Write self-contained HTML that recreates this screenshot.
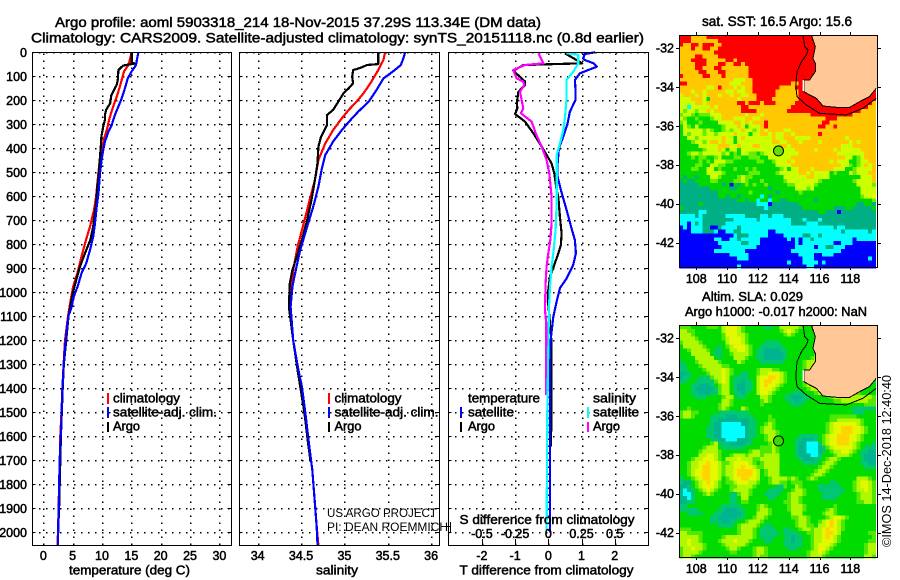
<!DOCTYPE html>
<html lang="en">
<head>
<meta charset="utf-8">
<title>Argo profile 5903318_214</title>
<style>
html,body{margin:0;padding:0;background:#fff;width:900px;height:580px;overflow:hidden}
svg{display:block}
text{font-family:"Liberation Sans",sans-serif;fill:#000;stroke:#000;stroke-width:.5px}
.t{font-size:14px}
.l{font-size:13px}
.k{font-size:12.5px}
.thin{font-size:12px;stroke:none}
</style>
</head>
<body>
<svg id="chart" xmlns="http://www.w3.org/2000/svg" width="900" height="580" viewBox="0 0 900 580">
  <rect x="0" y="0" width="900" height="580" fill="#fff"/>
  <text class="t" x="55" y="27" textLength="486" lengthAdjust="spacingAndGlyphs">Argo profile: aoml 5903318_214 18-Nov-2015 37.29S 113.34E (DM data)</text>
  <text class="t" x="31" y="42.5" textLength="613" lengthAdjust="spacingAndGlyphs">Climatology: CARS2009. Satellite-adjusted climatology: synTS_20151118.nc (0.8d earlier)</text>

  <g id="panel-layer"></g>

  <text class="l" x="69" y="574.5" textLength="121" lengthAdjust="spacingAndGlyphs">temperature (deg C)</text>
  <text class="l" x="316" y="574.5" textLength="42" lengthAdjust="spacingAndGlyphs">salinity</text>
  <text class="l" x="459.5" y="574.5" textLength="174" lengthAdjust="spacingAndGlyphs">T difference from climatology</text>
  <text class="l" x="459.5" y="524" textLength="175" lengthAdjust="spacingAndGlyphs">S difference from climatology</text>

  <g>
    <rect x="107" y="393" width="2" height="11" fill="#f00"/>
    <rect x="107" y="407" width="2" height="11" fill="#00f"/>
    <rect x="107" y="422" width="2" height="10" fill="#000"/>
    <text class="k" x="113" y="402.5" textLength="67" lengthAdjust="spacingAndGlyphs">climatology</text>
    <text class="k" x="113" y="416.5" textLength="104" lengthAdjust="spacingAndGlyphs">satellite-adj. clim.</text>
    <text class="k" x="113" y="430.5" textLength="27" lengthAdjust="spacingAndGlyphs">Argo</text>
  </g>
  <g>
    <rect x="328" y="393" width="2" height="11" fill="#f00"/>
    <rect x="328" y="407" width="2" height="11" fill="#00f"/>
    <rect x="328" y="422" width="2" height="10" fill="#000"/>
    <text class="k" x="334.5" y="402.5" textLength="67" lengthAdjust="spacingAndGlyphs">climatology</text>
    <text class="k" x="334.5" y="416.5" textLength="104" lengthAdjust="spacingAndGlyphs">satellite-adj. clim.</text>
    <text class="k" x="334.5" y="430.5" textLength="27" lengthAdjust="spacingAndGlyphs">Argo</text>
  </g>
  <g>
    <text class="k" x="468" y="402.5" textLength="72" lengthAdjust="spacingAndGlyphs">temperature</text>
    <rect x="460" y="407" width="2" height="11" fill="#00f"/>
    <text class="k" x="468" y="416.5" textLength="46" lengthAdjust="spacingAndGlyphs">satellite</text>
    <rect x="460" y="422" width="2" height="10" fill="#000"/>
    <text class="k" x="468" y="430.5" textLength="27" lengthAdjust="spacingAndGlyphs">Argo</text>
    <text class="k" x="593" y="402.5" textLength="43" lengthAdjust="spacingAndGlyphs">salinity</text>
    <rect x="587" y="407" width="2" height="11" fill="#0ff"/>
    <text class="k" x="593" y="416.5" textLength="46" lengthAdjust="spacingAndGlyphs">satellite</text>
    <rect x="587" y="422" width="2" height="10" fill="#f0f"/>
    <text class="k" x="593" y="430.5" textLength="27" lengthAdjust="spacingAndGlyphs">Argo</text>
  </g>
  <text class="thin" x="327" y="517" textLength="110" lengthAdjust="spacingAndGlyphs">US ARGO PROJECT</text>
  <text class="thin" x="327" y="531" textLength="121" lengthAdjust="spacingAndGlyphs">PI: DEAN ROEMMICH</text>
  <path d="M450.5 522V532M445 526.5H450" stroke="#000" stroke-width="1" fill="none" shape-rendering="crispEdges"/>

  <g id="map-layer"></g>

  <text class="t" x="702" y="26" textLength="150" lengthAdjust="spacingAndGlyphs">sat. SST: 16.5 Argo: 15.6</text>
  <text class="l" x="702" y="301" textLength="101" lengthAdjust="spacingAndGlyphs">Altim. SLA: 0.029</text>
  <text class="l" x="685" y="316" textLength="182" lengthAdjust="spacingAndGlyphs">Argo h1000: -0.017 h2000: NaN</text>
  <text class="thin" style="font-size:13px" transform="translate(891,547) rotate(-90)" x="0" y="0" textLength="172" lengthAdjust="spacingAndGlyphs">©IMOS 14-Dec-2018 12:40:40</text>
</svg>

<script>
// ---------- tick labels ----------
const depthTicks = [0,100,200,300,400,500,600,700,800,900,1000,1100,1200,1300,1400,1500,1600,1700,1800,1900,2000];
const tempTicks = [0,5,10,15,20,25,30];
const salTicks = [34,34.5,35,35.5,36];
const tDiffTicks = [-2,-1,0,1,2];
const sDiffTicks = [-0.5,-0.25,0,0.25,0.5];
const sDiffLabels = ['-0.5','-0.25','0','0.25','0.5'];
const lonTicks = [108,110,112,114,116,118];
const latTicks = [-32,-34,-36,-38,-40,-42];

// ---------- temperature profiles ----------
const tempClimDepth = [0,25,53,80,129,178,226,268,324,365,407,462,532,601,657,726,782,851,921,976,1018,1100,1200,1300,1400,1500,1600,1700,1800,1900,2000,2055];
const tempClimValue = [15.06,14.8,14.5,13.75,13.2,12.6,11.9,11.36,10.8,10.3,9.94,9.55,9.26,9.0,8.64,7.95,7.27,6.5,5.8,5.1,4.77,4.2,3.7,3.45,3.25,3.1,2.9,2.85,2.7,2.6,2.5,2.4];
const tempArgoDepth = [0,43,47,55,74,115,136,178,212,240,261,282,310,351,393,435,490,560,629,671,726,782,837,893,949,1004,1100,1200,1300,1400,1500,1600,1700,1800,1900,2000];
const tempArgoValue = [15.06,15.06,15.6,13.6,12.8,12.7,12.5,11.6,11.4,10.7,10.5,10.5,10.2,9.9,9.8,9.66,9.5,9.2,9.0,8.75,8.5,8.0,7.1,6.25,5.6,5.0,4.3,3.9,3.5,3.3,3.15,3.0,2.9,2.8,2.7,2.5];
const tempSatDepth = [0,25,53,80,108,150,192,226,261,303,330,372,407,449,504,587,643,712,768,824,879,921,976,1025,1060,1101,1157,1226,1282,1379,1448,1546,1657,1768,1851,1962,2052];
const tempSatValue = [16.2,16.0,15.8,15.05,14.4,13.9,13.35,12.8,12.2,11.65,11.1,10.5,10.2,9.94,9.66,9.4,9.1,8.8,8.5,7.95,7.3,6.5,5.85,5.1,4.83,4.26,3.98,3.7,3.52,3.3,3.18,3.07,2.84,2.73,2.67,2.56,2.5];

// ---------- salinity profiles ----------
const salClimDepth = [0,32,74,129,171,206,240,275,324,379,449,532,615,713,810,907,977,1060,1200,1324,1393,1504,1629,1740,1879,1977,2053];
const salClimValue = [35.47,35.45,35.39,35.3,35.22,35.14,35.05,34.97,34.87,34.78,34.7,34.66,34.6,34.53,34.46,34.41,34.39,34.38,34.41,34.47,34.51,34.55,34.59,34.63,34.66,34.68,34.7];
const salArgoDepth = [0,49,53,63,74,101,129,150,171,206,240,261,303,352,393,463,532,615,699,782,852,907,963,1060,1200,1324,1504,1640,1705];
const salArgoValue = [35.39,35.39,35.26,35.2,35.1,35.09,35.1,35.05,34.99,34.93,34.87,34.8,34.8,34.73,34.7,34.69,34.66,34.62,34.57,34.51,34.45,34.4,34.37,34.36,34.41,34.46,34.54,34.585,34.61];
const salSatDepth = [0,25,53,74,109,157,206,247,282,324,372,428,483,560,644,727,824,907,977,1060,1200,1324,1393,1504,1629,1740,1879,1977,2053];
const salSatValue = [35.7,35.68,35.65,35.58,35.45,35.37,35.28,35.16,35.07,34.97,34.87,34.78,34.74,34.7,34.64,34.57,34.49,34.44,34.4,34.38,34.41,34.47,34.51,34.55,34.59,34.63,34.66,34.68,34.69];

// ---------- difference profiles ----------
const tDiffSatDepth = [0,7,25,32,46,60,74,88,115,157,199,247,296,352,400,463,518,574,657,733,782,838,886,942,983,1039,1102,1185,1240,2000];
const tDiffSatValue = [1.41,1.1,1.05,1.1,1.36,1.46,1.2,.95,.8,.82,.82,.65,.58,.45,.32,.28,.28,.38,.55,.7,.8,.83,.75,.55,.35,.25,.15,.08,.05,.05];
const tDiffArgoDepth = [4,32,46,53,77,122,136,164,213,233,257,289,338,393,463,504,574,601,685,754,803,838,886,935,990,1053,1129,1213,1407,1643];
const tDiffArgoValue = [.5,.85,1.02,-.75,-1.05,-.7,-.7,-.9,-.95,-.93,-1.0,-.7,-.45,-.2,.1,.18,.25,.3,.35,.4,.38,.3,.18,.05,0,0,.05,.1,.1,.08];
const sDiffArgoDepth = [4,46,53,74,109,122,136,164,213,233,254,289,338,393,449,504,602,713,782,838,893,963,1074,1129,1240,1428];
const sDiffArgoValue = [-.075,-.0375,-.176,-.264,-.238,-.188,-.18,-.213,-.196,-.188,-.206,-.125,-.095,-.05,-.0125,.0075,.025,.025,.015,0,-.0125,-.02,-.025,-.015,-.015,-.015];
const sDiffSatDepth = [4,11,46,81,115,192,275,324,379,428,504,629,740,838,893,977,1060,1240,1504,1990];
const sDiffSatValue = [.138,.226,.226,.188,.138,.138,.125,.113,.088,.063,.063,.063,.055,.038,.025,.013,.005,0,-.0075,-.0125];

// ---------- maps ----------
const sstColors = {b:'#0000ff',c:'#00ffff',t:'#00b084',T:'#00c864',g:'#00d800',l:'#66ee00',x:'#ccff00',y:'#f4f400',o:'#ffc800',r:'#ff0000'};
const slaColors = {b:'#0000ff',c:'#00ffff',t:'#00b490',T:'#00c870',g:'#00dc00',l:'#50e800',x:'#b0f800',y:'#e4f800',o:'#ffd400',r:'#ff0000'};
const argoLon = [113.34];
const argoLat = [-37.29];
const landLon = [115.47,115.73,115.58,115.73,115.73,115.36,114.98,114.98,115.36,115.80,116.23,117.09,117.96,118.60,119.25,119.68,119.75,119.75];
const landLat = [-31.33,-31.93,-32.53,-32.79,-33.22,-33.64,-33.64,-34.24,-34.41,-34.59,-34.98,-35.05,-35.05,-34.76,-34.50,-34.07,-34.0,-31.33];
const shelfLon = [114.93,115.04,115.26,115.15,114.83,114.54,114.46,114.54,115.15,116.01,117.74,118.82,119.68];
const shelfLat = [-31.33,-31.93,-32.10,-32.36,-32.70,-33.22,-33.99,-34.50,-34.93,-35.36,-35.44,-35.10,-34.59];

const sstGrid = [
"rrroooorrrrrrrrrrrrrrrrrrrrrrrrrrrrrrrrrrrrrrrrrrrr",
"rrrooooooorrrrrrrrrrrrrrrrrrrrrrrrrrrrrrrrrrrrrrrrr",
"roorrorrroorrrrrrrrrrrrrrrrrrrrrrrrrrrrrrrrrrrrrrrr",
"oooroorroorrrrrrrrrrrrrrrrrrrrrrrrrrrrrrrrrrrrrrrrr",
"ooooooooorrrrrrrrrrrrrrrrrrrrrrrrrrrrrrrrrrrrrrrrrr",
"oooorroooorrrrrrrrrrrrrrrrrrrrrrrrrrrrrrrrrrrrrrrrr",
"ooorrrrooooorrorrrrrrrrrrrrrrrrrrrrrrrrrrrrrrrrrrrr",
"oooorrrooorroorrorrrrrrrrrrrrrrrrrrrrrrrrrrrrrrrrrr",
"oooorrooorrooooooorrrrrrrrrrrrrrrrrrrrrrrrrrrrrrrrr",
"ooooorrooorroooooorrrrrrrrrrrrrrrrrrrrrrrrrrrrrrrrr",
"rooooorroooroooooorrrrrrrrrrrrrrrrrrrrrrrrrrrrrrrrr",
"ooooooooooooooxxxoorrrrrrrrrrrrrrrrrrrrrrrrrrrrrrrr",
"rroooooooooooxxxooorrrrrrrrrroorrrrrrrrrrrrrrrrrrrr",
"oooooooxxoroooxoxoorrrrrrroooorrrrrrrrrrrrrrrrrrrrr",
"oooxooxoooooxxoxxoorrrrrroooooorrrrrrrrrrrrrrrrrrrr",
"xoooxoxoooxooxooxxoorrrrroooooorrrrrrrrrrrrrrrrrrrr",
"xxxoooxgoooooooxoooorrrrooooooorrrrrrrrrrrrrrrrrrrr",
"xxxxooxoooooooorrorrrorrrooooorrrrrrrrrrrrrrrrrrrro",
"xxcxxxxxoxoooooorrooooooooooorrrrrrrrrrrrrrrrrrrroo",
"xlxxlxxoxooooooorrrroooooooorrrrrrrrrrrrrrrrrrroooo",
"lxxlglllxxxooooooxoooxoooooooooooorrrrrrrrrrroooooo",
"xlgglggglxxoooxxxooxxooooooooooooooooorrroooooooooo",
"lxggglggggxxxxooxoxoooroooooooooooooorrooooooooooooo",
"gxlgxgggggglxxxoxgxxxorooooooooooooorroorooooooooooo",
"gxxxxxlxlgglxlxxoxxlxoxooooxxoooooooooooooooooooooo",
"gxlxxxlxxlxxxxoxxxgxxooxoxxooxoooooorooooooooooooo",
"ggxxlxxxxxxoxxgxoxxxxxxxoxxoooxxxxoooooooooxooooooo",
"ggglxxlxooxoxxgxxxxxxxxxooxxoooxooooxoooooooxoxoooo",
"gggggxxxxxoooxxoxxxooxxxxxooxoooooooooooooxxxoooooo",
"gggggglxxxoxgxxgxxxxxxxxxxoxxxoooooxooooxoxxxxxoooo",
"gglxxlxxxxxlxglgxxllglxxxxxxxxxooooooooooxxxxxxxooo",
"ggglgllgglxgggllgglllggxxxxxxooooooooooooooxxglxooo",
"ggggglglgxxxllggggggllgglxxxoxoooooooooxoxxxgglxxoo",
"ggggllggxxllgggggggggggggxxxxoooooooooooooxxlglxoxo",
"gggllggxxglggglgglglgggggglxgxxoooxoooooxxxgglxxxxo",
"gggggggxxxxlgggggglllgggglxxxxxooxoxxxxglgggxlxxxoo",
"gtggtgggxxlgggglxllggggggggxxxxxxooxxxxggggggggxxxo",
"tgttggggllggggllxlggglggggglxxxxxxxxlgggggggglxxxxo",
"tttttggggggtgbgtglglgglgggggllxxxxxlggggggggggxxxxl",
"ttttttttgggggttggggggggtggggggxxxlxggggggggggggxxxx",
"ttttttttttgggggggglggggggtggggglgggggggggggggggxxxx",
"ttttttttttggtggtgggggcgtggggggggggggggggggggggglxxy",
"tttttttttttttttggtggcggcggttgggggggtggggggggggggggl",
"tttttgttttttttttttttcccbtttttttgggggggggggggggttggt",
"gtttttttttttttttttttttctttttttttggggggggtttggtttttg",
"tttttcctttttttttttttttttttttttttttttggtttbttttttttt",
"cccctcttttttcccccttttcctccctttttttttttttttttttttttt",
"ccccccttttttttcccccctcccccccctttctttctttttttttttttt",
"ccbctcttttttcccccccccccccccccttttccctttttttttttttttt",
"bcbcccttbbtcccctcccccccccccccccccccccccctccttttttttt",
"bbbccctttcbbccttcccccccbbccccccccccccccccctcccccctcc",
"bbbbbbbbbbbbbbctttcccccbbbbcccccttcctccccccccccccccc",
"bbbbbbbbbccbbcctcccccbbbbbbbcbcbcctccccccccccbccccc",
"bbbbbbbbbbccccccttcccbbbbbbbbbcbccccccccbbcccbbbbbb",
"bbbbbbbbbbbcccccccccbbbbbbbbbbcccccbccttcccbbbbbbbbb",
"bbbbbbbbbccccccccbbbbbbbbbbbbcccccccccccccbbbbbbbbbb",
"bbbbbbbbbbbbbcccccbbbbbbbbbbbbbccccbbcccbbbbbbbbbbb",
"bbbbbbbbbbbbbbbcccbbbbbbbbbbbbbbcccbbbbbbbbbbbbbbcb",
"bbbbbbbbbbbbbbbbbbbbbbbbbbbbcbbbccccbcbbbbbbbbbbbbb",
"bbbbbbbbbbbbbbbcbbbbbbbbbbbbbbbbbccbbbbbbbbbbbbbbbb"
];

const slaGrid = [
"lllgggglllgxyyyxlgggggTTggxxxxxlggggllggggggggggggg",
"xxllgggggggxyyyxlggggggggglxyxlgggglxlggggggggggggg",
"xxxlggggggglyyyxxlggggggggglxlgggggglxggggggggggggg",
"xxxxlgggggglxyyyxlgggggggggggggggggglxggggggggggggg",
"lxxxxlggggggxyyyxlggggTTTTgggggggggglxggggggggggggg",
"gxxxxxlgggTglxyyyxlggTTTTTTggggggggglxggggggggggggg",
"gglxxxxlgTTggxxyyxlgTTttttTTgggggggglxggggggggggggg",
"gggxxxxxgTTgglxxxxlgTTtttttTggggggglxlggggggggggggg",
"ggggxxxxxgTgggxxxlggTTtttttTgggggglxxgggggggggggggg",
"TggglxxxxxlggggxlggggTTTTTTggggglxxxggggggggggggggg",
"TTggglxxxxxllggggggggggggggggggglxxxggggggggggggggg",
"TTgggglxxxxyxlgggggglxxxllgggggglxxlggggggggggggggg",
"ttTgggglxxxyxlggTTgglxxyyyxlgggglxlgggggggggggggggg",
"tTTggTTTlxxyxgTTTTggxyyooyxlgggglxlgggggggggggggggg",
"TTggTTTTTlxyxgTTtTTgxyooyyxlgggglxlgggggggggggggggg",
"gggTTtttTglxxgTttTTgxyoyyxlggggglxxlggggggggggggggg",
"gggTtttttTlxxgTttTTgxyyyxlggggggglxxxllgggggggggggg",
"gggTTtttTTlxxgTTtTggxyyxlggggTTTggglxxxxxxlllllgggg",
"ggggTTTgggglxxgTTggggxxlgggTTtttTTggggglxxxxxxxxxxl",
"gggggggggggxxlggggggglxlggggTTtTTgggggggllxxxxxxxll",
"gggggggggglxxlggggggglgggggggTTTgggggggggggggggglll",
"gglggggggglxlgggxlgggggggggggggggggggggggggggTTTTTT",
"lxxllgggggTTTTTTTTgggggggggggggggggggggggggggTTTggg",
"lxxlggggTTTTtttTTTTgggglggggggggggggggglllllllggggg",
"ggggggggTTttttttttTTgggllggggggggggggggllxxxxxxlggggg",
"ggggggggTttcccccttTTgglxlggggggggggggglxyyyyyyxlgggg",
"gggggggTTttcccccctTTglxxlggggggggggggglxyyoooyyxlggg",
"gggggggTTttcccccctTTglxxxlgggggggggggglxyyoooyyxlggg",
"gggggggTTttcccccctTTgglxxlgggggTTTTTglxyyoooyyxlggg",
"ggggggggTTttccctttTggglxxlggggTTtttTglxyyoooyyxlggg",
"gggggggglxTTTttttTTgggglxlggggTttcccTlxyyoooyxlgggT",
"gggggglxxxgTTTTTTgggglllxlggggTttccctTlxyyyyyxlgTTT",
"ggggglxxxxlggggggglxxlllxlggggTttccctTglxxyyxlgTTtt",
"gggggxxyyxlgglxxxlxxxlxxxxggggTtttccTggglxxxlggTttt",
"ggglxxyyyxlgxxxyxxxllxxxxxgggggTtttTTglxxlgggggTttt",
"gglxxyyoyyxllxyyyyxlglxxxxggggggTTTTglxxlggggggTTtt",
"gglxxyooyyxlxxyyoyyxllxxxxgggggggggglxxlggggggggTTT",
"gglxyyooyyxlxxyooooyxglxxxggggggggglxxlgggggggggggg",
"gglxyyooyyxlxxyooooyxglxxxgggggggglxxlggggggggggggg",
"Tgglxyooyyxglxyyooyyxgglxxxxlxlgglxlggggggggggxxxlg",
"TttglxyoyxlgllxyyyxxlgglxxllglllgggggggTTgggglxyyxl",
"ttTglxyyyxlggllxxxxlgggggTTlggxlggggTTTTTTggglxyyxl",
"tctTglxyxlggglxxxxlggggTTTTgglxxlgggTTTTTTTgglxxyxl",
"tccTgglxlggggTTlxxlgggTTTTgglxxxlggggTTTTTgggglxxxl",
"ttcTgggggggggTTgxxgggggTTggglxxlgggggTTTTggggglxxxl",
"ttTTgggggggggTTgllgggggggggllxxlggggggggggggggllxxl",
"TTgggggggggTTTTTgggglxlggggglxxxlggggggglgggggggggg",
"TTTTTgggggTTtttTTggglxxlgggglxxxlggggglxlgggggggggg",
"ggTTTTgggTTtttttTgggxxxlgggggxxxggggglxxlgggggggggg",
"ggggggggTTtttttTTgglxxlggggggllxxlgggglxyyxlggggggg",
"ggggggggTTTttTTgglxxxlgggggggglxxlgglxyoyxlgggggggg",
"ggggggggggTTTTglxxxxlgTTgggggglxxllgxxyoyxlgggggggg",
"lllgggggggggggglxxxlgTTTTggTTgglxxlxxyoyyxlgggggggg",
"xxllllggggggggglxxxlgTTTTTgTTTTggllxxyooyxgggggggll",
"xxxxxlggggglxxxxxxxlgTTTTggTTtTTgglxxyoyxlggggggggl",
"xxyxxlgggglxxxyxxxlgggTTgggTTtTTgglxxyyyxlgggggggll",
"xxyxxxlgggglxxxxxlgggggggggTTTTTgglxyyyxlggggggglxx",
"lxxyxxlggggglxxlggglxxlgggggTTTggglxyyxlgggggggglxx",
"lxxxxlgggggggllgggglxxlgggggggggglxxyxlggggggggglxx",
"lxxlggggggggggggggglxllgggggggggglxxxlggggggggggxxl"
];

// ---------- axis functions ----------
const depthY = d => 52.3 + 0.24 * d;
const tempX = v => 43.3 + 5.87 * v;
const salX = v => 257.7 + 86.7 * (v - 34);
const tDiffX = v => 548.3 + 33.2 * v;
const sDiffX = v => 548.3 + 132.8 * v;
const lonX = v => 696.3 + 15.4 * (v - 108);
const latY1 = v => 48 - 19.45 * (v + 32);
const latY2 = v => 338 - 19.45 * (v + 32);

const NS = 'http://www.w3.org/2000/svg';
function make(tag, parent) {
  const el = document.createElementNS(NS, tag);
  parent.appendChild(el);
  return el;
}
function line(parent, x1, y1, x2, y2, w, dash) {
  const el = make('line', parent);
  el.setAttribute('x1', x1);
  el.setAttribute('y1', y1);
  el.setAttribute('x2', x2);
  el.setAttribute('y2', y2);
  el.setAttribute('stroke', '#000');
  el.setAttribute('stroke-width', w);
  el.setAttribute('shape-rendering', 'crispEdges');
  if (dash) el.setAttribute('stroke-dasharray', dash);
  return el;
}
function label(parent, x, y, txt, anchor) {
  const el = make('text', parent);
  el.setAttribute('x', x);
  el.setAttribute('y', y);
  el.setAttribute('class', 'k');
  el.setAttribute('text-anchor', anchor);
  el.textContent = txt;
  return el;
}
function curve(parent, depths, values, xf, color, width) {
  const el = make('path', parent);
  const d = depths.map((dep, i) => (i ? 'L' : 'M') + xf(values[i]).toFixed(1) + ' ' + depthY(dep).toFixed(1)).join('');
  el.setAttribute('d', d);
  el.setAttribute('fill', 'none');
  el.setAttribute('stroke', color);
  el.setAttribute('stroke-width', width);
  el.setAttribute('shape-rendering', 'crispEdges');
  el.setAttribute('stroke-linejoin', 'round');
  return el;
}

const panelLayer = document.getElementById('panel-layer');
const DOT = '1.5 5.5';
const DOT_W = 1.5;
const LINE_W = 2.2;

function drawPanel(left, right, xf, xTicks, showDepthLabels, name) {
  const top = 52, bottom = 545;
  const g = make('g', panelLayer);
  
  
  xTicks.forEach(t => {
    const gl = line(g, Math.round(xf(t)) + .5, bottom, Math.round(xf(t)) + .5, top, DOT_W, DOT);
    
    
  });
  depthTicks.forEach(d => {
    const y = Math.round(depthY(d)) + .5;
    const gl = line(g, left, y, right, y, DOT_W, DOT);
    
    
    const t1 = line(g, left, y, left + 3.5, y, 1);
    
    
    const t2 = line(g, right - 3.5, y, right, y, 1);
    
    
    if (showDepthLabels) {
      const tl = label(g, 27, depthY(d) + 4.5, String(d), 'end');
      
      
    }
  });
  return g;
}
function drawFrame(g, left, right) {
  const f = make('rect', g);
  f.setAttribute('x', left + .5);
  f.setAttribute('y', 52.5);
  f.setAttribute('width', right - left);
  f.setAttribute('height', 493);
  f.setAttribute('fill', 'none');
  f.setAttribute('stroke', '#000');
  f.setAttribute('shape-rendering', 'crispEdges');
  
  
}

// temperature panel
const g1 = drawPanel(32, 231, tempX, tempTicks, true, 'temperature-panel');
const c1a = curve(g1, tempClimDepth, tempClimValue, tempX, '#f00', LINE_W);


const c1b = curve(g1, tempArgoDepth, tempArgoValue, tempX, '#000', LINE_W);


const c1c = curve(g1, tempSatDepth, tempSatValue, tempX, '#00f', LINE_W);


drawFrame(g1, 32, 231);
tempTicks.forEach(t => {
  const tl = label(g1, tempX(t), 560, String(t), 'middle');
  
  
});

// salinity panel
const g2 = drawPanel(239, 439, salX, salTicks, false, 'salinity-panel');
const c2a = curve(g2, salClimDepth, salClimValue, salX, '#f00', LINE_W);


const c2b = curve(g2, salArgoDepth, salArgoValue, salX, '#000', LINE_W);


const c2c = curve(g2, salSatDepth, salSatValue, salX, '#00f', LINE_W);


drawFrame(g2, 239, 439);
salTicks.forEach(t => {
  const tl = label(g2, salX(t), 560, String(t), 'middle');
  
  
});

// difference panel
const g3 = drawPanel(448, 648, tDiffX, tDiffTicks, false, 'difference-panel');
const c3b = curve(g3, tDiffArgoDepth, tDiffArgoValue, tDiffX, '#000', LINE_W);


const c3a = curve(g3, tDiffSatDepth, tDiffSatValue, tDiffX, '#00f', LINE_W);


const c3c = curve(g3, sDiffArgoDepth, sDiffArgoValue, sDiffX, '#f0f', LINE_W);


const c3d = curve(g3, sDiffSatDepth, sDiffSatValue, sDiffX, '#0ff', LINE_W);


drawFrame(g3, 448, 648);
tDiffTicks.forEach(t => {
  const tl = label(g3, tDiffX(t), 560, String(t), 'middle');
  
  
  const tk = line(g3, Math.round(tDiffX(t)) + .5, 539, Math.round(tDiffX(t)) + .5, 545, 1);
  
  
});
sDiffTicks.forEach((t, i) => {
  const tl = label(g3, sDiffX(t), 538, sDiffLabels[i], 'middle');
  
  
});

// maps
const mapLayer = document.getElementById('map-layer');
const cellLonStart = 106.9, cellLonStep = 0.25, cellLatStart = -31.33, cellLatStep = 0.2;

function drawMap(grid, palette, latY, top, bottom, labelBaseline, name, cellName, dotFill) {
  const g = make('g', mapLayer);
  
  
  grid.forEach((row, r) => {
    for (let c = 0; c < 51; c++) {
      const ch = row[Math.min(c, row.length - 1)];
      const cell = make('rect', g);
      cell.setAttribute('x', lonX(cellLonStart + c * cellLonStep).toFixed(2));
      cell.setAttribute('y', latY(cellLatStart - r * cellLatStep).toFixed(2));
      cell.setAttribute('width', 3.95);
      cell.setAttribute('height', 3.95);
      cell.setAttribute('fill', palette[ch]);
      cell.setAttribute('shape-rendering', 'crispEdges');
      
      
    }
  });
  const land = make('polygon', g);
  land.setAttribute('points', landLon.map((v, i) => lonX(v).toFixed(1) + ',' + latY(landLat[i]).toFixed(1)).join(' '));
  land.setAttribute('fill', '#ffc896');
  land.setAttribute('stroke', 'none');
  land.setAttribute('shape-rendering', 'crispEdges');
  
  
  const coast = make('polyline', g);
  coast.setAttribute('points', landLon.slice(0, 16).map((v, i) => lonX(v).toFixed(1) + ',' + latY(landLat[i]).toFixed(1)).join(' '));
  coast.setAttribute('fill', 'none');
  coast.setAttribute('stroke', '#000');
  coast.setAttribute('stroke-width', 1);
  coast.setAttribute('shape-rendering', 'crispEdges');
  
  
  const shelf = make('polyline', g);
  shelf.setAttribute('points', shelfLon.map((v, i) => lonX(v).toFixed(1) + ',' + latY(shelfLat[i]).toFixed(1)).join(' '));
  shelf.setAttribute('fill', 'none');
  shelf.setAttribute('stroke', '#000');
  shelf.setAttribute('stroke-width', 1);
  shelf.setAttribute('shape-rendering', 'crispEdges');
  
  
  const gap = make('rect', g);
  gap.setAttribute('x', lonX(114.9).toFixed(1));
  gap.setAttribute('y', latY(-33.65).toFixed(1));
  gap.setAttribute('width', 1.5);
  gap.setAttribute('height', 11);
  gap.setAttribute('fill', '#fff');
  
  
  const dot = make('circle', g);
  dot.setAttribute('cx', lonX(argoLon[0]).toFixed(1));
  dot.setAttribute('cy', latY(argoLat[0]).toFixed(1));
  dot.setAttribute('r', 5);
  dot.setAttribute('fill', dotFill);
  dot.setAttribute('stroke', '#000');
  dot.setAttribute('stroke-width', 1);
  
  
  const frame = make('rect', g);
  frame.setAttribute('x', 679.5);
  frame.setAttribute('y', top + .5);
  frame.setAttribute('width', 198);
  frame.setAttribute('height', bottom - top);
  frame.setAttribute('fill', 'none');
  frame.setAttribute('stroke', '#000');
  frame.setAttribute('shape-rendering', 'crispEdges');
  
  
  lonTicks.forEach(t => {
    const x = Math.round(lonX(t)) + .5;
    const a = line(g, x, top - 3, x, top, 1);
    
    
    const b = line(g, x, bottom, x, bottom + 3, 1);
    
    
    const tl = label(g, lonX(t), labelBaseline, String(t), 'middle');
    
    
  });
  latTicks.forEach(t => {
    const y = Math.round(latY(t)) + .5;
    const a = line(g, 676, y, 679, y, 1);
    
    
    const b = line(g, 878, y, 881, y, 1);
    
    
    const tl = label(g, 674, latY(t) + 4.5, String(t), 'end');
    
    
  });
}
drawMap(sstGrid, sstColors, latY1, 35, 267, 283, 'sst-map', 'sst-cell', '#66dd00');
drawMap(slaGrid, slaColors, latY2, 325, 557, 573, 'sla-map', 'sla-cell', '#33dd00');
</script>
</body>
</html>
